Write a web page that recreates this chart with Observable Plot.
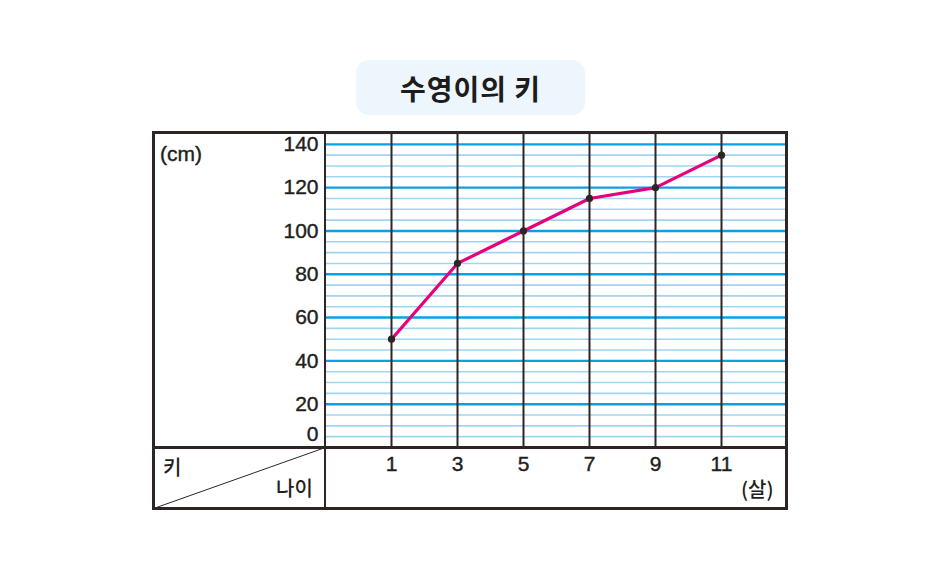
<!DOCTYPE html>
<html>
<head>
<meta charset="utf-8">
<script src="https://cdn.jsdelivr.net/npm/d3@7"></script>
<script src="https://cdn.jsdelivr.net/npm/@observablehq/plot@0.6"></script>
<style>
  html, body { margin: 0; padding: 0; background: #fff; }
  #wrap { position: relative; width: 940px; height: 570px; overflow: hidden; font-family: "Liberation Sans", Arial, sans-serif; color: #231f20; }
  #chart { position: absolute; left: 0; top: 0; }
  .abs { position: absolute; pointer-events: none; }
  #title { left: 356px; top: 60px; width: 229px; height: 55px; border-radius: 13px; background: #edf5fd;
           display: flex; align-items: center; justify-content: center;
           font-family: "Noto Sans CJK KR", sans-serif; font-weight: 700; font-size: 28px; color: #1c1c1c; letter-spacing: 1px; }
  .kr { font-family: "Noto Sans CJK KR", sans-serif; font-weight: 500; font-size: 20px; line-height: 1; color: #231f20; }
  .lbl { font-family: "Liberation Sans", Arial, sans-serif; font-size: 21px; line-height: 1; color: #231f20; -webkit-text-stroke: 0.4px #231f20; }
  #chart text { stroke: #231f20; stroke-width: 0.4px; }
</style>
</head>
<body>
<div id="wrap">
  <div id="chart"></div>
  <div id="title" class="abs">수영이의 키</div>
  <!-- table structure -->
  <div class="abs" style="left:152px;top:131px;width:636px;height:379px;border:3px solid #2d2624;box-sizing:border-box;"></div>
  <div class="abs" style="left:323.5px;top:131px;width:2px;height:379px;background:#2d2624;"></div>
  <div class="abs" style="left:152px;top:446px;width:636px;height:2.5px;background:#2d2624;"></div>
  <svg class="abs" style="left:0;top:0" width="940" height="570"><line x1="155" y1="508" x2="324" y2="448" stroke="#2d2624" stroke-width="1"/></svg>
  <div class="abs lbl" style="left:160px;top:143px;">(cm)</div>
  <div class="abs kr" style="left:163px;top:457px;">키</div>
  <div class="abs kr" style="left:276px;top:478px;">나이</div>
  <div class="abs kr" style="left:741px;top:479px;">(살)</div>
</div>
<script>
// Data
const ages = [1, 3, 5, 7, 9, 11];
const heights = [50, 85, 100, 115, 120, 135];
const yMajorTicks = [20, 40, 60, 80, 100, 120, 140];
const yZeroTick = [0];
const yMinorTicks = d3.range(5, 146, 5).filter(v => v % 20 !== 0);

const data = ages.map((a, i) => ({age: a, height: heights[i]}));

const chart = Plot.plot({
  width: 940,
  height: 570,
  marginLeft: 325,
  marginRight: 153,
  marginTop: 133,
  marginBottom: 123,
  x: {domain: [-1, 13]},
  y: {domain: [0, 145]},
  style: {fontFamily: "Liberation Sans, Arial, sans-serif", fontSize: "21px", color: "#231f20", background: "transparent", overflow: "visible"},
  marks: [
    Plot.ruleY(yMinorTicks, {stroke: "#9fd5f1", strokeWidth: 1.6}),
    Plot.ruleY(yMajorTicks, {stroke: "#0aa0e6", strokeWidth: 2.4}),
    Plot.ruleX(ages, {stroke: "#2d2624", strokeWidth: 2}),
    Plot.line(data, {x: "age", y: "height", stroke: "#e6007e", strokeWidth: 3.2}),
    Plot.dot(data, {x: "age", y: "height", r: 3.6, fill: "#2d2624", stroke: "none"}),
    Plot.axisY(yMajorTicks, {tickSize: 0, tickPadding: 7, label: null, fontSize: 21, style: {letterSpacing: "-1px"}}),
    Plot.axisY(yZeroTick, {tickSize: 0, tickPadding: 7, label: null, fontSize: 21, dy: -13}),
    Plot.axisX(ages, {tickSize: 0, tickPadding: 9, label: null, fontSize: 21, style: {letterSpacing: "-1px"}})
  ]
});
document.getElementById("chart").appendChild(chart);
</script>
</body>
</html>
